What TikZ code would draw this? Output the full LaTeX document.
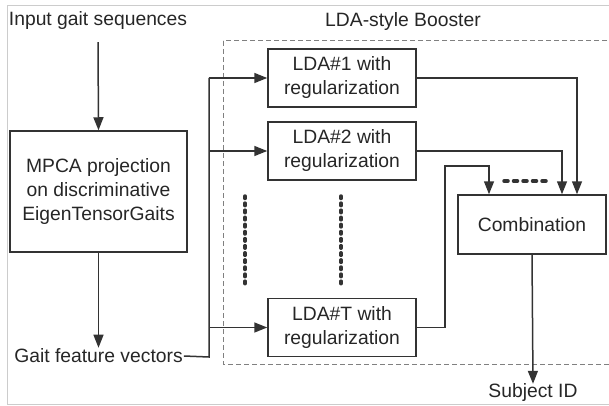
\documentclass[tikz,border=0pt]{standalone}
\usepackage{fontspec}
\setmainfont{Liberation Sans}
\usetikzlibrary{arrows.meta}
\definecolor{ln}{HTML}{333333}
\definecolor{tx}{HTML}{262626}
\begin{document}
\begin{tikzpicture}[x=1pt,y=-1pt,
  font=\fontsize{19.3}{24}\selectfont, text=tx,
  box/.style={draw=ln, line width=1.5pt, align=center, inner sep=0pt},
  lbl/.style={inner sep=1pt},
  arr/.style={draw=ln, line width=1.5pt, -{Triangle[length=13pt,width=10pt]}},
  ln/.style={draw=ln, line width=1.5pt}]
\useasboundingbox (0,0) rectangle (609,406);
\draw[draw=black!20, line width=1pt] (7,404) -- (7,6) -- (615,6);
\draw[draw=black!20, line width=1pt] (7,404) -- (615,404);
% dashed booster
\draw[draw=black!50, line width=1pt, dash pattern=on 5pt off 3pt] (223,41) rectangle (620,364);
\node[lbl] (bl) at (403,22) {LDA-style Booster};
% nodes
\node[lbl] (in) at (98,21) {Input gait sequences};
\node[box, minimum width=177pt, minimum height=121pt] (mpca) at (98.5,191.5) {MPCA projection\\on discriminative\\EigenTensorGaits};
\node[lbl] (gfv) at (98.5,356) {Gait feature vectors};
\node[box, minimum width=148pt, minimum height=58pt] (l1) at (342,78) {LDA\#1 with\\regularization};
\node[box, minimum width=148pt, minimum height=58pt] (l2) at (342,151) {LDA\#2 with\\regularization};
\node[box, minimum width=148pt, minimum height=58pt] (lt) at (342,327.5) {LDA\#T with\\regularization};
\node[box, minimum width=148pt, minimum height=59pt] (comb) at (532,224.5) {Combination};
\node[lbl] (sid) at (533,393) {Subject ID};
% connectors
\draw[arr] ([yshift=-11pt]in.south) -- (mpca.north);
\draw[arr] (mpca.south) -- (gfv.north);
\coordinate (sb) at (209,357);
\coordinate (st) at (209,78);
\draw[ln] (gfv.east) -- (sb) -- (st);
\draw[arr] (st) -- (l1.west);
\draw[arr] (st |- l2.west) -- (l2.west);
\draw[arr] (st |- lt.west) -- (lt.west);
\draw[arr] (l1.east) -| ([xshift=45pt]comb.north);
\draw[arr] (l2.east) -| ([xshift=30pt]comb.north);
\coordinate (tc) at (445,166);
\draw[arr] (lt.east) -| (tc) -| ([xshift=-43pt]comb.north);
\draw[arr] (comb.south) -- ([yshift=-1pt]sid.north);
% ellipsis dots
\draw[draw=ln, line width=3.5pt, line cap=round, dash pattern=on 2.5pt off 4.6pt] (245,196) -- (245,285);
\draw[draw=ln, line width=3.5pt, line cap=round, dash pattern=on 2.5pt off 4.6pt] (341,196) -- (341,285);
\draw[draw=ln, line width=3.5pt, line cap=round, dash pattern=on 4pt off 5.5pt] (504,181) -- (546,181);
\end{tikzpicture}
\end{document}
